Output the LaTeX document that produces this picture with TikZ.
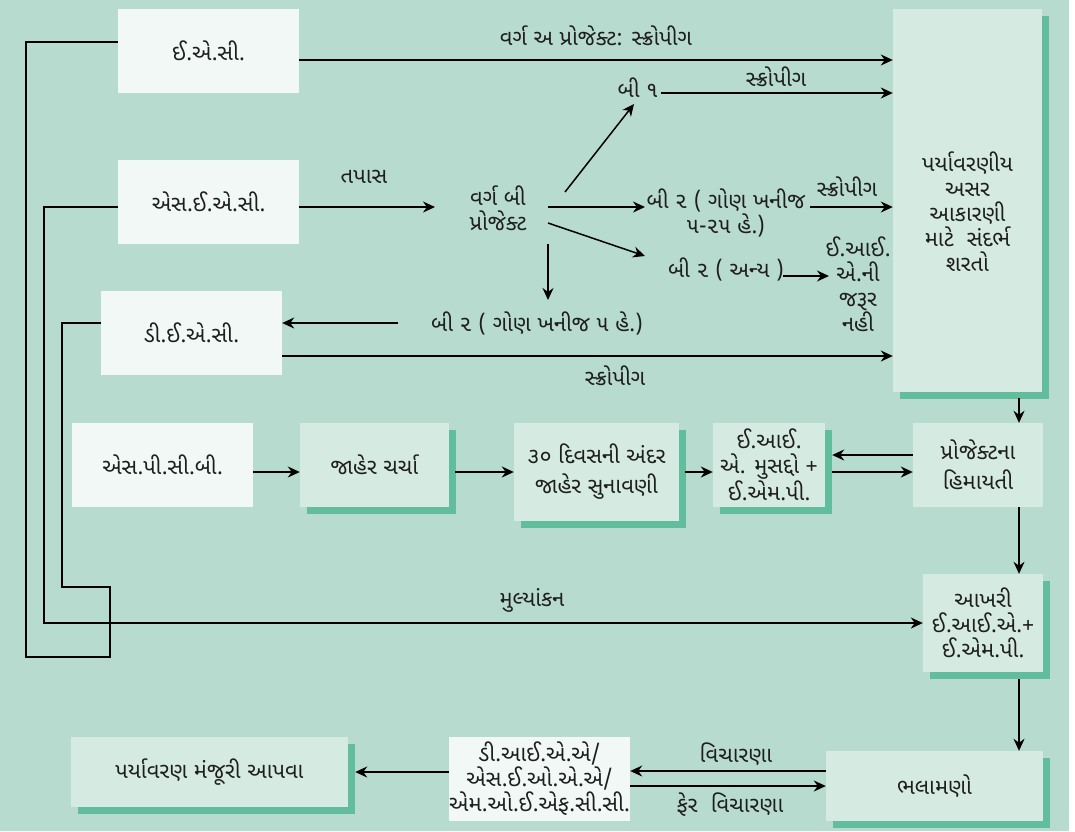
\documentclass[tikz,border=0pt]{standalone}
\usepackage{fontspec}
\setmainfont[Script=Gujarati]{Noto Sans Gujarati UI}
\usetikzlibrary{arrows.meta,shadows}
\definecolor{bgc}{HTML}{B8DBCF}
\definecolor{lightbox}{HTML}{D5EAE1}
\definecolor{whitebox}{HTML}{F2F8F5}
\definecolor{shadowc}{HTML}{62BD9F}
\definecolor{txt}{HTML}{1E1E1E}
\begin{document}
\begin{tikzpicture}[x=1pt,y=-1pt, font=\fontsize{22}{25}\selectfont, text=txt,
  box/.style={fill=lightbox, inner sep=0pt, align=center},
  wbox/.style={fill=whitebox, inner sep=0pt, align=center},
  shad/.style={drop shadow={shadow xshift=7pt, shadow yshift=-7pt, opacity=1, fill=shadowc}},
  lbl/.style={inner sep=0pt, align=center},
  ln/.style={draw=black, line width=1.5pt},
  arr/.style={ln, -{Stealth[length=12pt,width=11pt]}}]
\useasboundingbox (0,0) rectangle (1075,831);
\fill[bgc] (0,0) rectangle (1069,831);
\fill[white] (1069,0) rectangle (1075,831);

% boxes
\node[wbox, minimum width=181pt, minimum height=84pt] (eac) at (208.5,51) {ઈ.એ.સી.};
\node[wbox, minimum width=181pt, minimum height=84pt] (seac) at (208.5,202) {એસ.ઈ.એ.સી.};
\node[wbox, minimum width=181pt, minimum height=84pt] (deac) at (191.5,333) {ડી.ઈ.એ.સી.};
\node[box, shad, minimum width=149pt, minimum height=383pt] (eiabox) at (967.5,200.5) {};
\node[lbl] (eiatext) at (967.5,212) {પર્યાવરણીય\\અસર\\આકારણી\\માટે \ સંદર્ભ\\શરતો};
\node[wbox, minimum width=181pt, minimum height=84pt] (spcb) at (162.5,465) {એસ.પી.સી.બી.};
\node[box, shad, minimum width=149pt, minimum height=84pt] (charcha) at (374.5,465) {જાહેર ચર્ચા};
\node[box, shad, minimum width=165pt, minimum height=98pt] (sunavani) at (596.5,472) {૩૦ દિવસની અંદર\\[5pt]જાહેર સુનાવણી};
\node[box, shad, minimum width=112pt, minimum height=84pt] (musaddo) at (769,465) {ઈ.આઈ.\\એ. મુસદ્દો +\\ઈ.એમ.પી.};
\node[box, minimum width=130pt, minimum height=84pt] (himayati) at (978,465) {પ્રોજેક્ટના\\[5pt]હિમાયતી};
\node[box, shad, minimum width=120pt, minimum height=98pt] (akhri) at (983,623) {આખરી\\ઈ.આઈ.એ.+\\ઈ.એમ.પી.};
\node[box, shad, minimum width=217pt, minimum height=70pt] (bhalamano) at (934.5,786) {ભલામણો};
\node[wbox, minimum width=181pt, minimum height=84pt] (diaa) at (539.5,779) {ડી.આઈ.એ.એ/\\એસ.ઈ.ઓ.એ.એ/\\એમ.ઓ.ઈ.એફ.સી.સી.};
\node[box, shad, minimum width=277pt, minimum height=70pt] (manjuri) at (209.5,772) {પર્યાવરણ મંજૂરી આપવા};

% labels
\node[lbl] (lblA) at (596,36) {વર્ગ અ પ્રોજેક્ટ: સ્ક્રોપીગ};
\node[lbl] (b1) at (638,88) {બી ૧};
\node[lbl] (sc1) at (776,77) {સ્ક્રોપીગ};
\node[lbl] (tapas) at (364,177) {તપાસ};
\node[lbl] (vargb) at (498,208) {વર્ગ બી\\પ્રોજેક્ટ};
\node[lbl] (b2g) at (726,213) {બી ૨ ( ગોણ ખનીજ\\૫-૨૫ હે.)};
\node[lbl] (sc2) at (847,187) {સ્ક્રોપીગ};
\node[lbl] (b2a) at (726,269) {બી ૨ ( અન્ય )};
\node[lbl] (nahi) at (858,284) {ઈ.આઈ.\\એ.ની\\જરૂર\\નહી};
\node[lbl] (b25) at (537,323) {બી ૨ ( ગોણ ખનીજ ૫ હે.)};
\node[lbl] (sc3) at (615,376) {સ્ક્રોપીગ};
\node[lbl] (mul) at (532,600) {મુલ્યાંકન};
\node[lbl] (vich) at (736,754) {વિચારણા};
\node[lbl] (pher) at (730,805) {ફેર \ વિચારણા};

% free ends
\coordinate (vbIn) at (435,207);
\coordinate (vbOutUp) at (565,192);
\coordinate (vbOutR) at (548,207);
\coordinate (vbOutDR) at (548,223);
\coordinate (vbOutD) at (548,244);
\coordinate (b1In) at (634,104);
\coordinate (b1Out) at (661,93);
\coordinate (b2gIn) at (645,207);
\coordinate (b2gOut) at (810,207);
\coordinate (b2aIn) at (645,256);
\coordinate (b2aOut) at (783,276);
\coordinate (nahiIn) at (829,276);
\coordinate (b25In) at (548,300);
\coordinate (b25Out) at (398,323);

% connectors top
\draw[arr] ([yshift=-9pt]eac.east) -- ([yshift=140.5pt]eiabox.west);
\draw[arr] (b1Out) -- ([yshift=107.5pt]eiabox.west);
\draw[arr] ([yshift=-5pt]seac.east) -- (vbIn);
\draw[arr] (vbOutUp) -- (b1In);
\draw[arr] (vbOutR) -- (b2gIn);
\draw[arr] (b2gOut) -- ([yshift=-6.5pt]eiabox.west);
\draw[arr] (vbOutDR) -- (b2aIn);
\draw[arr] (b2aOut) -- (nahiIn);
\draw[arr] (vbOutD) -- (b25In);
\draw[arr] (b25Out) -- ([yshift=10pt]deac.east);
\draw[arr] ([yshift=-23pt]deac.east) -- ([yshift=-155.5pt]eiabox.west);
\draw[arr] ([xshift=51.5pt,yshift=-6pt]eiabox.south) -- ([xshift=41pt]himayati.north);

% row 2
\draw[arr] ([yshift=-7pt]spcb.east) -- ([yshift=-7pt]charcha.west);
\draw[arr] ([xshift=6pt,yshift=-7pt]charcha.east) -- (sunavani.west);
\draw[arr] ([xshift=6pt]sunavani.east) -- ([yshift=-7pt]musaddo.west);
\draw[arr] ([yshift=10pt]himayati.west) -- ([xshift=7pt,yshift=10pt]musaddo.east);
\draw[arr] ([xshift=7pt,yshift=-7pt]musaddo.east) -- ([yshift=-7pt]himayati.west);
\draw[arr] ([xshift=41pt]himayati.south) -- ([xshift=36pt]akhri.north);
\draw[arr] ([xshift=36pt,yshift=-7pt]akhri.south) -- ([xshift=84.5pt]bhalamano.north);

% bottom
\draw[arr] ([yshift=15pt]bhalamano.west) -- ([yshift=8pt]diaa.east);
\draw[arr] ([yshift=-7pt]diaa.east) -- (bhalamano.west);
\draw[arr] ([yshift=7pt]diaa.west) -- ([xshift=7pt]manjuri.east);

% left routing
\draw[ln] ([yshift=9pt]eac.west) -- (26,42) -- (26,657) -- (110,657) -- (110,587) -- (62,587) -- (62,323) -- ([yshift=10pt]deac.west);
\draw[arr] ([yshift=-5pt]seac.west) -- (44,207) -- (44,623) -- (akhri.west);
\end{tikzpicture}
\end{document}
